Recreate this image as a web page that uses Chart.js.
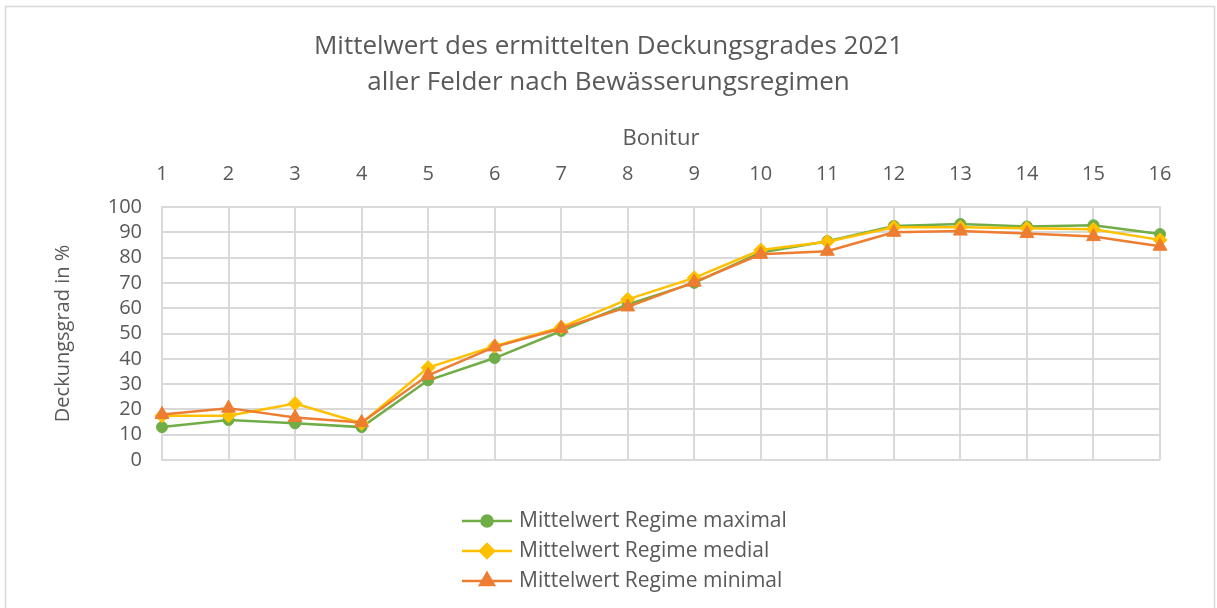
<!DOCTYPE html>
<html>
<head>
<meta charset="utf-8">
<script src="https://cdn.jsdelivr.net/npm/chart.js@4/dist/chart.umd.min.js"></script>
<style>
  body { margin: 0; background: #fff; }
  #wrap { width: 1217px; height: 608px; position: relative; }
</style>
</head>
<body>
<div id="wrap"><canvas id="myChart"></canvas></div>
<script>
const boniturLabels = ['1', '2', '3', '4', '5', '6', '7', '8', '9', '10', '11', '12', '13', '14', '15', '16'];
const seriesNames = ['Mittelwert Regime maximal', 'Mittelwert Regime medial', 'Mittelwert Regime minimal'];
const regimeMaximal = [13, 15.8, 14.5, 13, 31.5, 40.3, 51, 61.5, 70, 82, 86.5, 92.5, 93.3, 92.3, 92.8, 89.3];
const regimeMedial = [17.5, 17.5, 22.3, 14.5, 36.5, 45, 52.5, 63.5, 72, 83, 86.3, 92, 92, 91.6, 91.2, 87];
const regimeMinimal = [18, 20.5, 16.8, 14.8, 33.5, 44.7, 52, 60.5, 70.3, 81.3, 82.5, 90, 90.5, 89.5, 88.3, 84.5];
const yTicks = [0, 10, 20, 30, 40, 50, 60, 70, 80, 90, 100];

const FONT = '"Open Sans", sans-serif';
const TEXT = '#595959';
const GRID = '#d9d9d9';

const frame = {
    id: 'frame',
    beforeDraw(chart) {
        const c = chart.ctx;
        c.save();
        c.fillStyle = '#fff';
        c.fillRect(0, 0, chart.width, chart.height);
        c.strokeStyle = GRID;
        c.lineWidth = 1.5;
        c.strokeRect(5.5, 6.5, chart.width - 8, chart.height + 20);
        c.restore();
    }
};

const sideLegend = {
    id: 'sideLegend',
    afterDraw(chart) {
        const c = chart.ctx;
        const x0 = 462;
        c.save();
        chart.data.datasets.forEach((ds, i) => {
            const y = 521 + i * 30;
            c.strokeStyle = ds.borderColor;
            c.lineWidth = 2.5;
            c.beginPath();
            c.moveTo(x0, y);
            c.lineTo(x0 + 50, y);
            c.stroke();
            c.fillStyle = ds.backgroundColor;
            Chart.helpers.drawPoint(c, {
                pointStyle: ds.pointStyle,
                radius: ds.pointRadius,
                borderWidth: 1,
                rotation: 0
            }, x0 + 25, y);
            c.fillStyle = TEXT;
            c.font = '21px ' + FONT;
            c.textBaseline = 'middle';
            c.textAlign = 'left';
            c.fillText(ds.label, x0 + 57, y);
        });
        c.restore();
    }
};

const ctx = document.getElementById('myChart').getContext('2d');
const myChart = new Chart(ctx, {
    type: 'line',
    data: {
        labels: boniturLabels,
        datasets: [{
            label: seriesNames[0],
            data: regimeMaximal,
            borderColor: '#70ad47',
            backgroundColor: '#70ad47',
            pointStyle: 'circle',
            pointRadius: 5.5,
            order: 3
        }, {
            label: seriesNames[1],
            data: regimeMedial,
            borderColor: '#ffc000',
            backgroundColor: '#ffc000',
            pointStyle: 'rectRot',
            pointRadius: 7,
            order: 2
        }, {
            label: seriesNames[2],
            data: regimeMinimal,
            borderColor: '#ed7d31',
            backgroundColor: '#ed7d31',
            pointStyle: 'triangle',
            pointRadius: 8,
            order: 1
        }]
    },
    options: {
        responsive: true,
        maintainAspectRatio: false,
        animation: false,
        elements: {
            line: { borderWidth: 2.5, tension: 0 },
            point: { borderWidth: 1, hoverRadius: 7 }
        },
        layout: { padding: { top: 0, left: 0, right: 0, bottom: 148 } },
        plugins: {
            legend: { display: false },
            tooltip: { enabled: false },
            title: {
                display: true,
                text: ['Mittelwert des ermittelten Deckungsgrades 2021', 'aller Felder nach Bewässerungsregimen'],
                color: TEXT,
                font: { family: FONT, size: 26, weight: 'normal', lineHeight: 36 / 26 },
                padding: { top: 29, bottom: 0 }
            }
        },
        scales: {
            x: {
                position: 'top',
                afterFit: (s) => { s.height = 106; },
                grid: { color: GRID, lineWidth: 2, drawTicks: false },
                border: { color: GRID, width: 2 },
                ticks: { color: TEXT, font: { family: FONT, size: 20 }, padding: 21, maxRotation: 0 },
                title: {
                    display: true,
                    text: 'Bonitur',
                    color: TEXT,
                    font: { family: FONT, size: 22 },
                    padding: { top: 25 }
                }
            },
            y: {
                min: 0,
                max: 100,
                afterFit: (s) => { s.width = 162; },
                afterBuildTicks: (s) => { s.ticks = yTicks.map(v => ({ value: v })); },
                grid: { color: GRID, lineWidth: 2, drawTicks: false },
                border: { color: GRID, width: 2 },
                ticks: { color: TEXT, font: { family: FONT, size: 20 }, padding: 20, autoSkip: false },
                title: {
                    display: true,
                    text: 'Deckungsgrad in %',
                    color: TEXT,
                    font: { family: FONT, size: 20 },
                    padding: { top: 51 }
                }
            },
            spacer: {
                position: 'right',
                afterFit: (s) => { s.width = 57; },
                grid: { display: false, drawTicks: false },
                border: { display: false },
                ticks: { display: false }
            }
        }
    },
    plugins: [frame, sideLegend]
});
</script>
</body>
</html>
